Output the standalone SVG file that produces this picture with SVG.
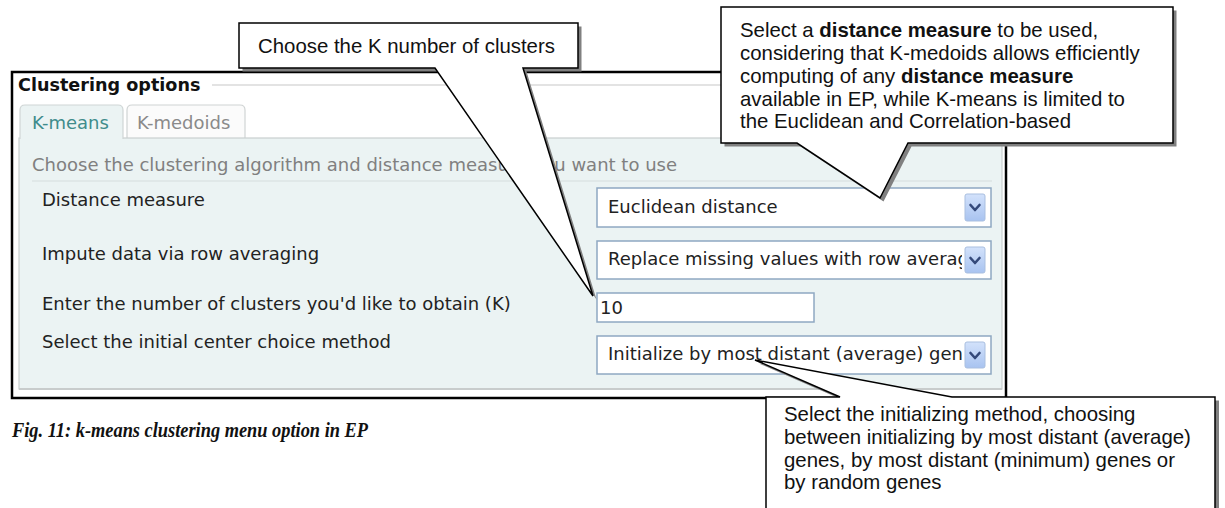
<svg xmlns="http://www.w3.org/2000/svg" width="1225" height="508" viewBox="0 0 1225 508">
  <style>
    .ui { font-family: "DejaVu Sans", Verdana, sans-serif; font-size: 18px; fill: #222; }
    .hint { fill: #808080; }
    .hdr { font-weight: bold; fill: #111; font-size: 17.6px; }
    .field { fill: #fff; stroke: #8fa8c2; stroke-width: 1.5; }
    .btn { fill: url(#btnGrad); stroke: #a9bfe0; stroke-width: 1; }
    .chev { fill: none; stroke: #34497a; stroke-width: 2.6; stroke-linecap: round; stroke-linejoin: round; }
    .note { font-family: "Liberation Sans", Arial, Helvetica, sans-serif; font-size: 20.4px; fill: #111; }
    .bubble { fill: #fff; stroke: #000; stroke-width: 1.5; stroke-linejoin: miter; }
    .shadow { fill: #808080; }
    .caption { font-family: "Liberation Serif", "Times New Roman", serif; font-size: 20px; font-weight: bold; font-style: italic; fill: #111; }
  </style>
  <defs>
    <linearGradient id="btnGrad" x1="0" y1="0" x2="0" y2="1">
      <stop offset="0" stop-color="#d3e2fb"/>
      <stop offset="1" stop-color="#a8c3f0"/>
    </linearGradient>
    <clipPath id="clipSel"><rect x="598" y="180" width="364" height="200"/></clipPath>
  </defs>

  <rect width="1225" height="508" fill="#fff"/>

  <!-- options panel -->
  <g id="options-panel">
    <rect x="12" y="72" width="994" height="326" fill="#fff" stroke="#000" stroke-width="2.5"/>
    <text class="ui hdr" x="18" y="91">Clustering options</text>
    <line x1="212" y1="85" x2="1000" y2="85" stroke="#c8c8c8" stroke-width="1.2"/>

    <!-- tabs -->
    <path d="M127,138 V110 Q127,105 132,105 H240 Q245,105 245,110 V138" fill="#fbfbfb" stroke="#d0d4d4" stroke-width="1.2"/>
    <rect x="19" y="138" width="983" height="251" fill="#ebf3f3" stroke="#c9cfcf" stroke-width="1.2"/>
    <line x1="19" y1="389" x2="1002" y2="389" stroke="#c8cccc" stroke-width="2"/>
    <path d="M20,139 V110 Q20,105 25,105 H118 Q123,105 123,110 V139" fill="#ebf3f3" stroke="#d0d6d6" stroke-width="1.2"/>
    <rect x="21" y="137" width="101" height="3" fill="#ebf3f3"/>
    <text class="ui" x="32" y="129" style="fill:#3f8c8c">K-means</text>
    <text class="ui" x="137" y="129" style="fill:#8a8a8a">K-medoids</text>

    <text class="ui hint" x="32" y="171">Choose the clustering algorithm and distance measure you want to use</text>
    <line x1="32" y1="181" x2="992" y2="181" stroke="#d6dede" stroke-width="1.2"/>
  </g>

  <g id="row-distance">
    <text class="ui" x="42" y="206">Distance measure</text>
    <rect class="field" x="597" y="188" width="394" height="39"/>
    <text class="ui" x="608" y="213" clip-path="url(#clipSel)">Euclidean distance</text>
    <rect class="btn" x="965" y="194" width="20" height="27" rx="2"/>
    <polyline class="chev" points="970.5,205 975,210 979.5,205"/>
  </g>

  <g id="row-impute">
    <text class="ui" x="42" y="260">Impute data via row averaging</text>
    <rect class="field" x="597" y="241" width="394" height="38"/>
    <text class="ui" x="608" y="265" clip-path="url(#clipSel)">Replace missing values with row averages</text>
    <rect class="btn" x="965" y="247" width="20" height="26" rx="2"/>
    <polyline class="chev" points="970.5,258 975,263 979.5,258"/>
  </g>

  <g id="row-k">
    <text class="ui" x="42" y="310">Enter the number of clusters you'd like to obtain (K)</text>
    <rect class="field" x="597" y="293" width="217" height="29"/>
    <text class="ui" x="600" y="314">10</text>
  </g>

  <g id="row-init">
    <text class="ui" x="42" y="348">Select the initial center choice method</text>
    <rect class="field" x="597" y="336" width="394" height="38"/>
    <text class="ui" x="608" y="360" clip-path="url(#clipSel)">Initialize by most distant (average) genes</text>
    <rect class="btn" x="965" y="342" width="20" height="26" rx="2"/>
    <polyline class="chev" points="970.5,353 975,358 979.5,353"/>
  </g>

  <text id="caption" class="caption" x="12" y="437" textLength="356" lengthAdjust="spacingAndGlyphs">Fig. 11: k-means clustering menu option in EP</text>

  <!-- callouts -->
  <g id="callout-k">
    <path class="shadow" transform="translate(3.5,3.5)" d="M239,23 H578 V68 H523 L593,296 L435,68 H239 Z"/>
    <path class="bubble" d="M239,23 H578 V68 H523 L593,296 L435,68 H239 Z"/>
    <text class="note" x="258" y="53">Choose the K number of clusters</text>
  </g>

  <g id="callout-distance">
    <path class="shadow" transform="translate(3.5,3.5)" d="M721,7 H1173 V143 H908 L880,198 L797,143 H721 Z"/>
    <path class="bubble" d="M721,7 H1173 V143 H908 L880,198 L797,143 H721 Z"/>
    <text class="note" x="740" y="37">Select a <tspan font-weight="bold">distance measure</tspan> to be used,</text>
    <text class="note" x="740" y="60">considering that K-medoids allows efficiently</text>
    <text class="note" x="740" y="83">computing of any <tspan font-weight="bold">distance measure</tspan></text>
    <text class="note" x="740" y="106">available in EP, while K-means is limited to</text>
    <text class="note" x="740" y="128">the Euclidean and Correlation-based</text>
  </g>

  <g id="callout-init">
    <path class="shadow" transform="translate(4,3.5)" d="M766,397 H840 L755,360 L952,397 H1215 V530 H766 Z"/>
    <path class="bubble" d="M766,397 H840 L755,360 L952,397 H1215 V530 H766 Z"/>
    <text class="note" x="784" y="421">Select the initializing method, choosing</text>
    <text class="note" x="784" y="444">between initializing by most distant (average)</text>
    <text class="note" x="784" y="467">genes, by most distant (minimum) genes or</text>
    <text class="note" x="784" y="489">by random genes</text>
  </g>
</svg>
